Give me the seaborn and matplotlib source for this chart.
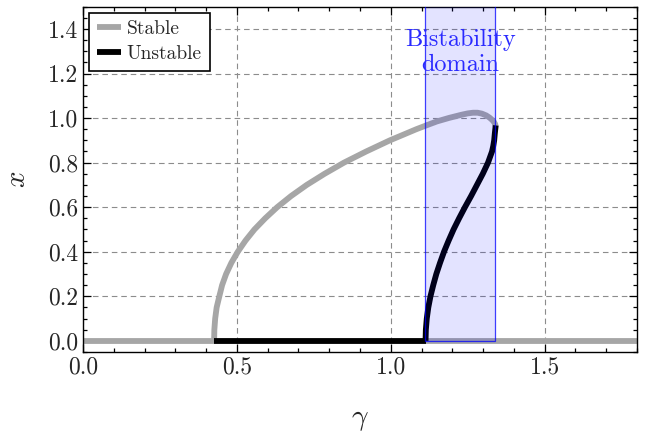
import numpy as np
import pandas as pd
import matplotlib
matplotlib.use("Agg")
import matplotlib.pyplot as plt
from matplotlib.lines import Line2D
from matplotlib.patches import Rectangle
from matplotlib.ticker import MultipleLocator, FormatStrFormatter
import seaborn as sns

# Stable branch (upper)
gamma_stable = [0.426, 0.4268, 0.4295, 0.4343, 0.4430, 0.452, 0.465, 0.482, 0.503, 0.528,
                0.557, 0.592, 0.631, 0.676, 0.727, 0.785, 0.848, 0.920, 0.997, 1.040,
                1.083, 1.117, 1.150, 1.190, 1.230, 1.250, 1.267, 1.282, 1.296, 1.310,
                1.321, 1.330, 1.336, 1.3395, 1.341]
x_stable = [0.000, 0.050, 0.100, 0.150, 0.200, 0.250, 0.300, 0.350, 0.400, 0.450,
            0.500, 0.550, 0.600, 0.650, 0.700, 0.750, 0.800, 0.850, 0.900, 0.925,
            0.950, 0.968, 0.985, 1.001, 1.015, 1.021, 1.024, 1.024, 1.020, 1.012,
            1.002, 0.991, 0.981, 0.972, 0.962]

# Unstable branch
gamma_unstable = [1.113, 1.114, 1.117, 1.122, 1.129, 1.138, 1.148, 1.160, 1.173, 1.188,
                  1.204, 1.222, 1.241, 1.261, 1.280, 1.299, 1.316, 1.329, 1.333, 1.336,
                  1.338, 1.340, 1.341]
x_unstable = [0.000, 0.050, 0.100, 0.150, 0.200, 0.250, 0.300, 0.350, 0.400, 0.450,
              0.500, 0.550, 0.600, 0.650, 0.700, 0.750, 0.800, 0.850, 0.875, 0.900,
              0.930, 0.955, 0.967]

# trivial solution x = 0
gamma_zero_stable_left = [0.0, 0.426]
gamma_zero_unstable = [0.426, 1.113]
gamma_zero_stable_right = [1.113, 1.8]

# bistability window
bistable_lo, bistable_hi = 1.110, 1.340

sns.set_style("ticks")
plt.rcParams["font.family"] = "serif"
plt.rcParams["font.serif"] = ["cmr10", "DejaVu Serif"]
plt.rcParams["mathtext.fontset"] = "cm"
plt.rcParams["axes.formatter.use_mathtext"] = True
plt.rcParams["axes.unicode_minus"] = False

grey = "#a6a6a6"
lw = 4.2

fig = plt.figure(figsize=(6.55, 4.32), dpi=100)
ax = fig.add_axes([0.1267, 0.1852, 0.8458, 0.7993])

for g in (gamma_zero_stable_left, gamma_zero_stable_right):
    sns.lineplot(x=g, y=[0, 0], color=grey, lw=lw, ax=ax, sort=False,
                 estimator=None, solid_capstyle="butt", zorder=2)
sns.lineplot(x=gamma_zero_unstable, y=[0, 0], color="black", lw=lw, ax=ax,
             sort=False, estimator=None, solid_capstyle="butt", zorder=3)

stable = pd.DataFrame({"gamma": gamma_stable, "x": x_stable})
unstable = pd.DataFrame({"gamma": gamma_unstable, "x": x_unstable})
sns.lineplot(data=stable, x="gamma", y="x", color=grey, lw=lw, ax=ax, sort=False,
             estimator=None, solid_capstyle="butt", solid_joinstyle="round", zorder=2)
sns.lineplot(data=unstable, x="gamma", y="x", color="black", lw=lw, ax=ax, sort=False,
             estimator=None, solid_capstyle="butt", solid_joinstyle="round", zorder=3)

ax.add_patch(Rectangle((bistable_lo, 0), bistable_hi - bistable_lo, 1.6,
                       facecolor=(0, 0, 1, 0.11), edgecolor=(0, 0, 1, 0.75),
                       lw=0.9, zorder=4))
ax.text((bistable_lo + bistable_hi) / 2, 1.295, "Bistability\ndomain", color="#2a2aff",
        ha="center", va="center", fontsize=17.5, linespacing=1.15, zorder=5)

ax.set_xlim(0, 1.8)
ax.set_ylim(-0.05, 1.5)
ax.xaxis.set_major_locator(MultipleLocator(0.5))
ax.xaxis.set_minor_locator(MultipleLocator(0.1))
ax.yaxis.set_major_locator(MultipleLocator(0.2))
ax.yaxis.set_minor_locator(MultipleLocator(0.05))
ax.tick_params(which="both", direction="in", top=True, right=True, labelsize=17,
               color="black", width=0.9)
ax.tick_params(which="major", length=5.5)
ax.tick_params(which="minor", length=3)
ax.xaxis.set_major_formatter(FormatStrFormatter("%.1f"))
ax.yaxis.set_major_formatter(FormatStrFormatter("%.1f"))
ax.grid(True, which="major", ls=(0, (5, 3.5)), color="#8c8c8c", lw=0.8)
for s in ax.spines.values():
    s.set_color("black")
    s.set_linewidth(1.0)

ax.set_xlabel(r"$\gamma$", fontsize=21, labelpad=20)
ax.set_ylabel(r"$x$", fontsize=21, labelpad=12)

handles = [Line2D([], [], color=grey, lw=lw, solid_capstyle="butt"),
           Line2D([], [], color="black", lw=lw, solid_capstyle="butt")]
leg = ax.legend(handles, ["Stable", "Unstable"], loc="upper left", fontsize=14,
                frameon=True, fancybox=False, framealpha=1, edgecolor="black",
                handlelength=1.25, handletextpad=0.3, borderpad=0.4,
                labelspacing=0.35, borderaxespad=0.3)
leg.get_frame().set_linewidth(1.2)
leg.set_zorder(6)

fig.savefig("out.png", dpi=100)
